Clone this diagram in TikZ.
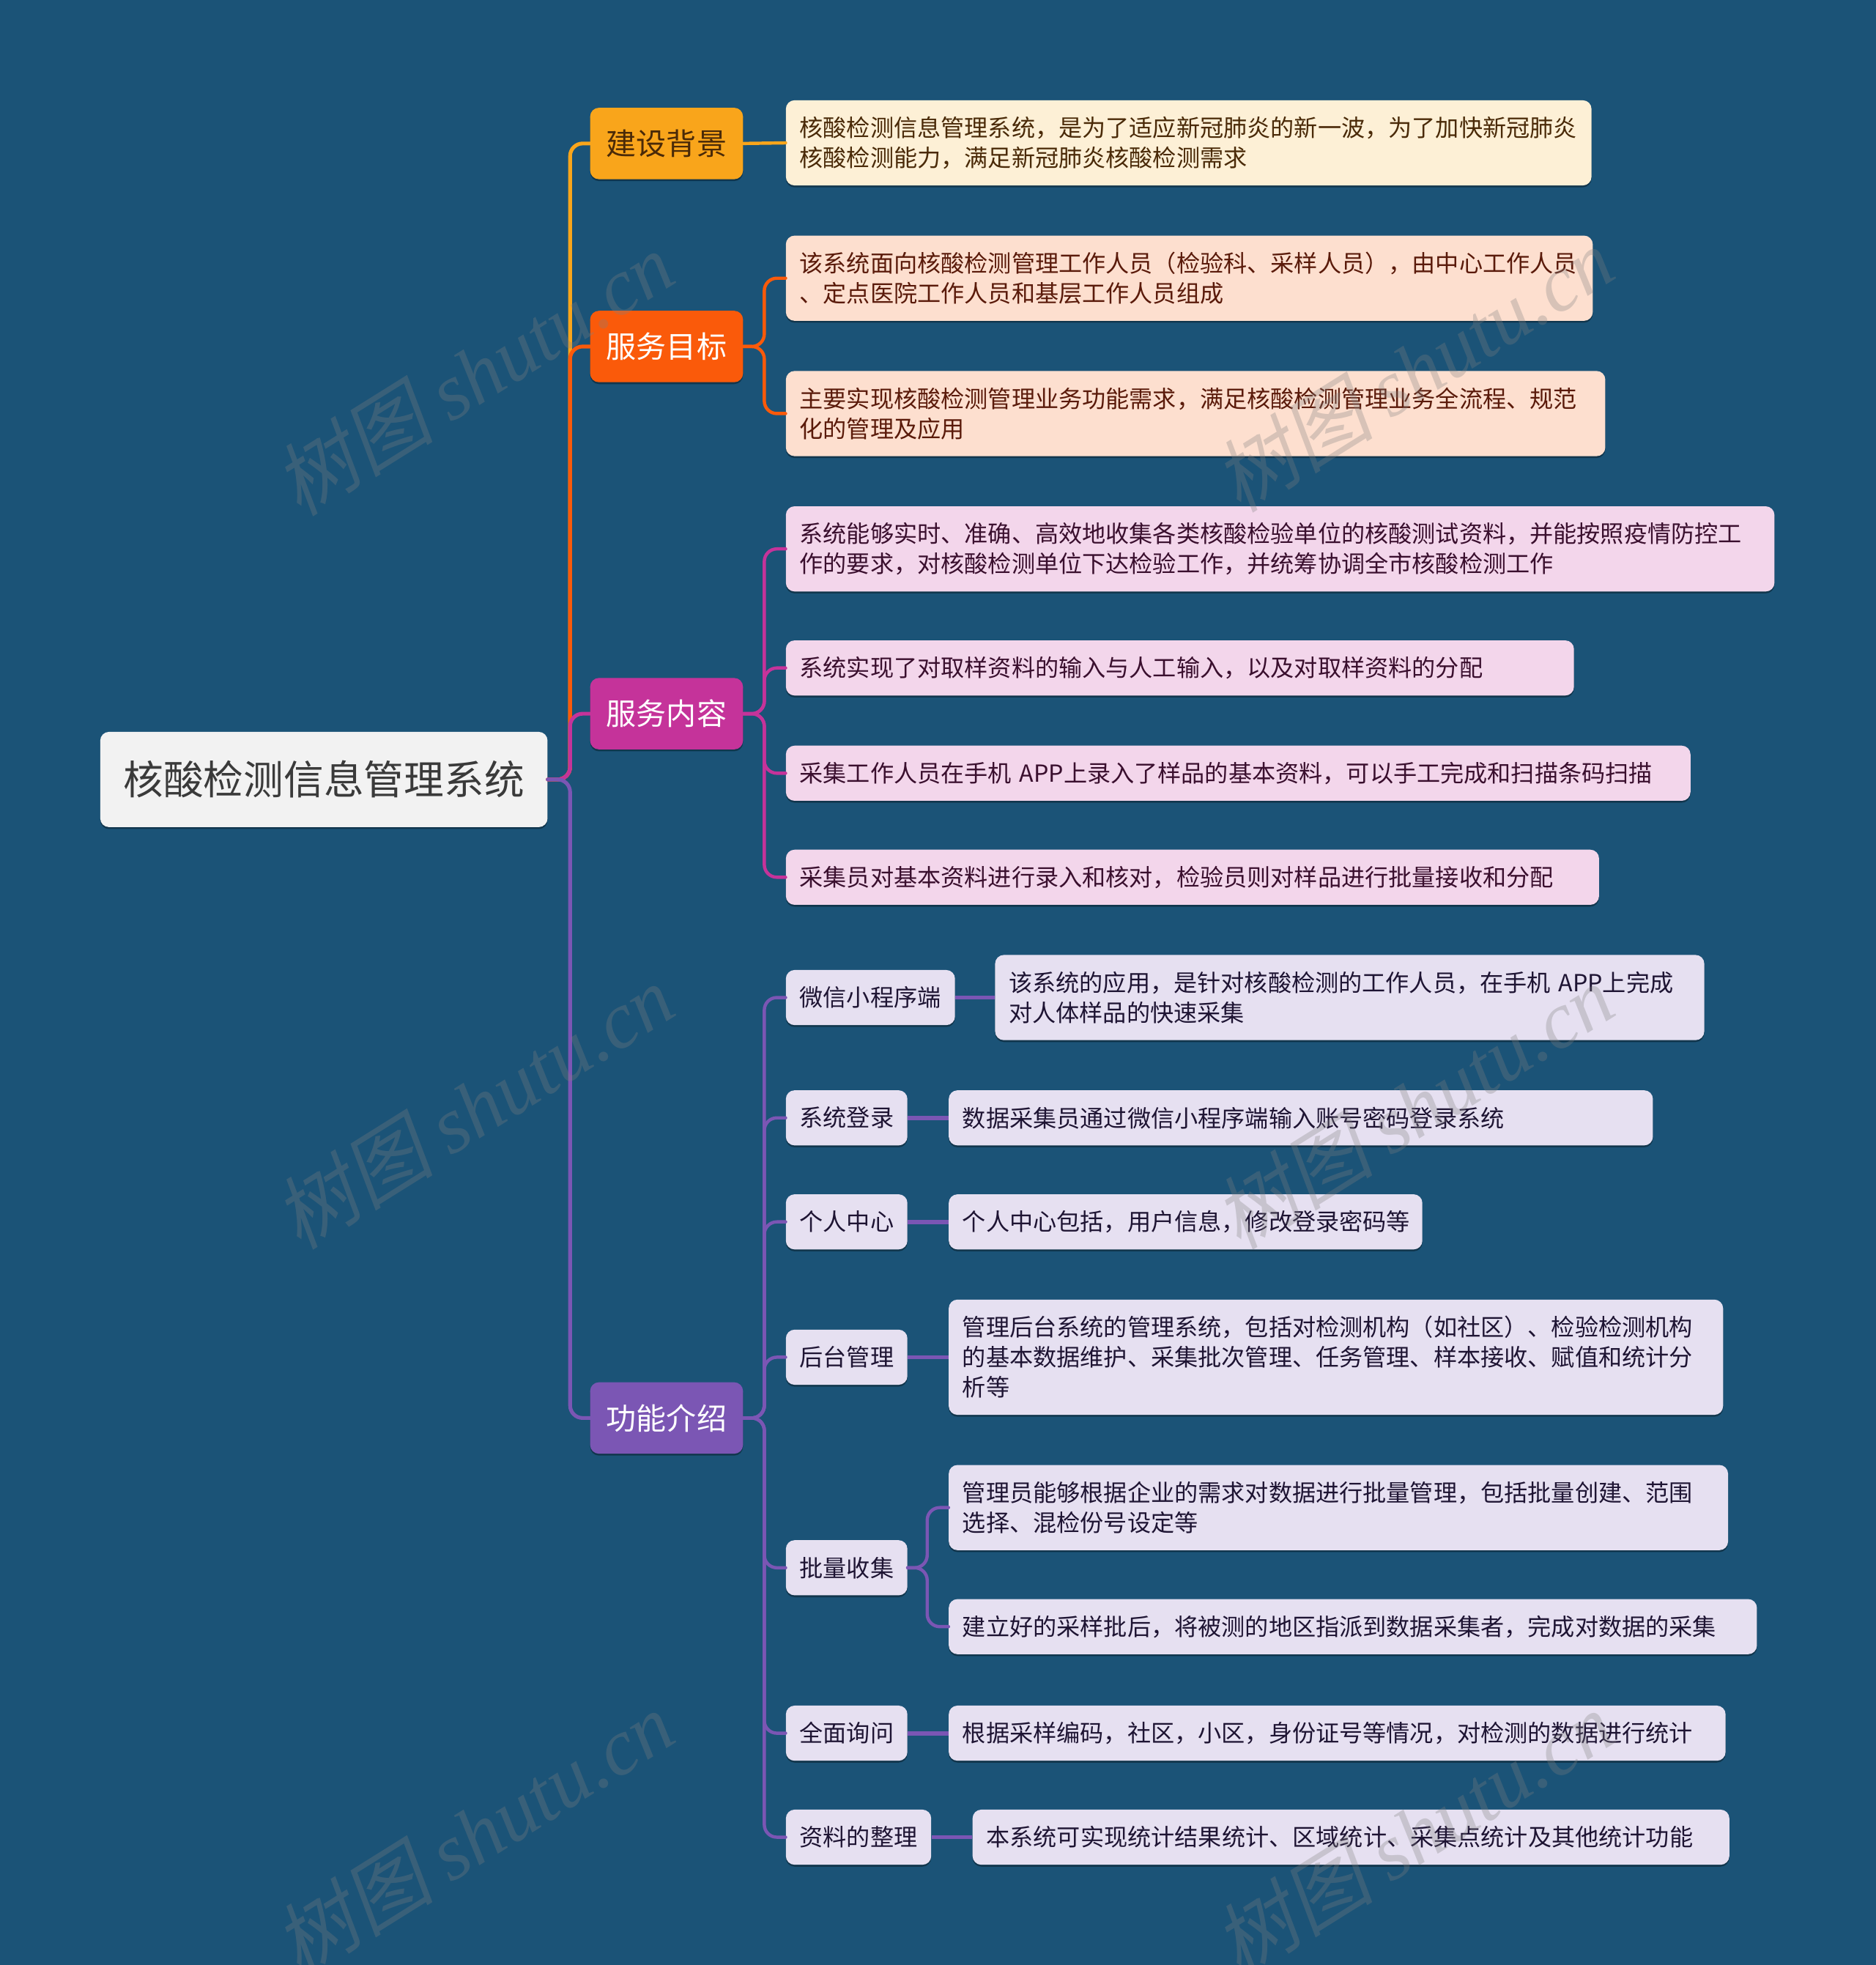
\documentclass[tikz,border=0pt]{standalone}
\usepackage{fontspec}
\setmainfont{Noto Sans CJK SC}
\newfontfamily\wmlatin{Liberation Serif}
\newfontfamily\wmcjk[FakeSlant=0.2]{Noto Sans CJK SC}
\usetikzlibrary{shadows}
\definecolor{bg}{RGB}{27,83,119}
\definecolor{rootfill}{RGB}{242,242,242}
\definecolor{roottext}{RGB}{58,58,58}
\definecolor{ca}{RGB}{249,165,27}
\definecolor{cafill}{RGB}{253,240,214}
\definecolor{catext}{RGB}{74,42,8}
\definecolor{cb}{RGB}{250,90,10}
\definecolor{cbfill}{RGB}{253,223,207}
\definecolor{cbtext}{RGB}{90,26,10}
\definecolor{cc}{RGB}{197,51,154}
\definecolor{ccfill}{RGB}{243,214,235}
\definecolor{cctext}{RGB}{58,15,46}
\definecolor{cd}{RGB}{123,86,180}
\definecolor{cdfill}{RGB}{230,224,241}
\definecolor{cdtext}{RGB}{30,20,51}
\tikzset{
  base/.style={rounded corners=7pt, inner ysep=0pt,
    drop shadow={shadow xshift=0pt, shadow yshift=-1.5pt, opacity=0.35, fill=black}},
  rootbox/.style={base, fill=rootfill, text=roottext, minimum width=357pt, minimum height=76pt,
    inner xsep=0pt, font=\fontsize{32}{38}\selectfont},
  lvone/.style={base, minimum width=122pt, minimum height=57pt, inner xsep=0pt,
    font=\fontsize{24}{28}\selectfont},
  leaf/.style={base, anchor=west, inner xsep=11pt, align=left,
    font=\fontsize{18.8}{24}\selectfont},
  one/.style={minimum height=44pt},
  two/.style={minimum height=68pt},
  three/.style={minimum height=92pt},
  la/.style={leaf, fill=cafill, text=catext},
  lb/.style={leaf, fill=cbfill, text=cbtext},
  lc/.style={leaf, fill=ccfill, text=cctext},
  ld/.style={leaf, fill=cdfill, text=cdtext},
  conn/.style={rounded corners=10pt, line cap=round},
  wm/.style={text=gray, opacity=0.3, font=\fontsize{64}{70}\selectfont, inner sep=0pt},
}
\begin{document}
\begin{tikzpicture}[x=1pt, y=-1pt]
\fill[bg] (0,0) rectangle (1497,1568);
\useasboundingbox (0,0) rectangle (1497,1568);

% root and level 1
\node[rootbox] (root) at (258.5,622) {核酸检测信息管理系统};
\node[lvone, fill=ca, text=catext] (b1) at (532,114.5) {建设背景};
\node[lvone, fill=cb, text=white] (b2) at (532,276.5) {服务目标};
\node[lvone, fill=cc, text=white] (b3) at (532,569.5) {服务内容};
\node[lvone, fill=cd, text=white] (b4) at (532,1131.5) {功能介绍};

% level 2
\node[la, two, text width=621pt] (a1) at (627,114) {核酸检测信息管理系统，是为了适应新冠肺炎的新一波，为了加快新冠肺炎\\核酸检测能力，满足新冠肺炎核酸检测需求};
\node[lb, two, text width=622pt] (s1) at (627,222) {该系统面向核酸检测管理工作人员（检验科、采样人员），由中心工作人员\\、定点医院工作人员和基层工作人员组成};
\node[lb, two, text width=632pt] (s2) at (627,330) {主要实现核酸检测管理业务功能需求，满足核酸检测管理业务全流程、规范\\化的管理及应用};
\node[lc, two, text width=767pt] (n1) at (627,438) {系统能够实时、准确、高效地收集各类核酸检验单位的核酸测试资料，并能按照疫情防控工\\作的要求，对核酸检测单位下达检验工作，并统筹协调全市核酸检测工作};
\node[lc, one, text width=607pt] (n2) at (627,533) {系统实现了对取样资料的输入与人工输入，以及对取样资料的分配};
\node[lc, one, text width=700pt] (n3) at (627,617) {采集工作人员在手机 APP上录入了样品的基本资料，可以手工完成和扫描条码扫描};
\node[lc, one, text width=627pt] (n4) at (627,700) {采集员对基本资料进行录入和核对，检验员则对样品进行批量接收和分配};

\node[ld, one, text width=113pt] (f1) at (627,796) {微信小程序端};
\node[ld, one, text width=75pt] (f2) at (627,892) {系统登录};
\node[ld, one, text width=75pt] (f3) at (627,975) {个人中心};
\node[ld, one, text width=75pt] (f4) at (627,1083) {后台管理};
\node[ld, one, text width=75pt] (f5) at (627,1251) {批量收集};
\node[ld, one, text width=75pt] (f6) at (627,1383) {全面询问};
\node[ld, one, text width=94pt] (f7) at (627,1466) {资料的整理};

% level 3
\node[ld, two, text width=544pt] (g1) at (794,796) {该系统的应用，是针对核酸检测的工作人员，在手机 APP上完成\\对人体样品的快速采集};
\node[ld, one, text width=540pt] (g2) at (757,892) {数据采集员通过微信小程序端输入账号密码登录系统};
\node[ld, one, text width=356pt] (g3) at (757,975) {个人中心包括，用户信息，修改登录密码等};
\node[ld, three, text width=596pt] (g4) at (757,1083) {管理后台系统的管理系统，包括对检测机构（如社区）、检验检测机构\\的基本数据维护、采集批次管理、任务管理、样本接收、赋值和统计分\\析等};
\node[ld, two, text width=600pt] (g51) at (757,1203) {管理员能够根据企业的需求对数据进行批量管理，包括批量创建、范围\\选择、混检份号设定等};
\node[ld, one, text width=623pt] (g52) at (757,1298) {建立好的采样批后，将被测的地区指派到数据采集者，完成对数据的采集};
\node[ld, one, text width=598pt] (g6) at (757,1383) {根据采样编码，社区，小区，身份证号等情况，对检测的数据进行统计};
\node[ld, one, text width=582pt] (g7) at (776,1466) {本系统可实现统计结果统计、区域统计、采集点统计及其他统计功能};

% connectors root -> level 1
\draw[conn, ca, line width=3pt] (root.east) -- (455,622) |- (b1.west);
\draw[conn, cb, line width=3pt] (root.east) -- (455,622) |- (b2.west);
\draw[conn, cc, line width=3pt] (root.east) -- (455,622) |- (b3.west);
\draw[conn, cd, line width=3pt] (root.east) -- (455,622) |- (b4.west);

% level 1 -> level 2
\draw[conn, ca, line width=2.6pt] (b1.east) -- (a1.west);
\foreach \t in {s1,s2} \draw[conn, cb, line width=2.6pt] (b2.east) -- (610,276.5) |- (\t.west);
\foreach \t in {n1,n2,n3,n4} \draw[conn, cc, line width=2.6pt] (b3.east) -- (610,569.5) |- (\t.west);
\foreach \t in {f1,f2,f3,f4,f5,f6,f7} \draw[conn, cd, line width=2.6pt] (b4.east) -- (610,1131.5) |- (\t.west);

% level 2 -> level 3
\draw[cd, line width=3.4pt] (f1.east) -- (g1.west);
\draw[cd, line width=3.4pt] (f2.east) -- (g2.west);
\draw[cd, line width=3.4pt] (f3.east) -- (g3.west);
\draw[cd, line width=3.4pt] (f4.east) -- (g4.west);
\draw[conn, cd, line width=2.6pt] (f5.east) -- (740,1251) |- (g51.west);
\draw[conn, cd, line width=2.6pt] (f5.east) -- (740,1251) |- (g52.west);
\draw[cd, line width=3.4pt] (f6.east) -- (g6.west);
\draw[cd, line width=3.4pt] (f7.east) -- (g7.west);

% watermarks
\foreach \p [count=\i] in {(378,298),(378,883),(378,1463),(1128,295),(1128,883),(1128,1463)}
  \node[wm, rotate=32] (wm\i) at \p {{\wmcjk 树图} {\wmlatin\itshape shutu.cn}};
\end{tikzpicture}
\end{document}
